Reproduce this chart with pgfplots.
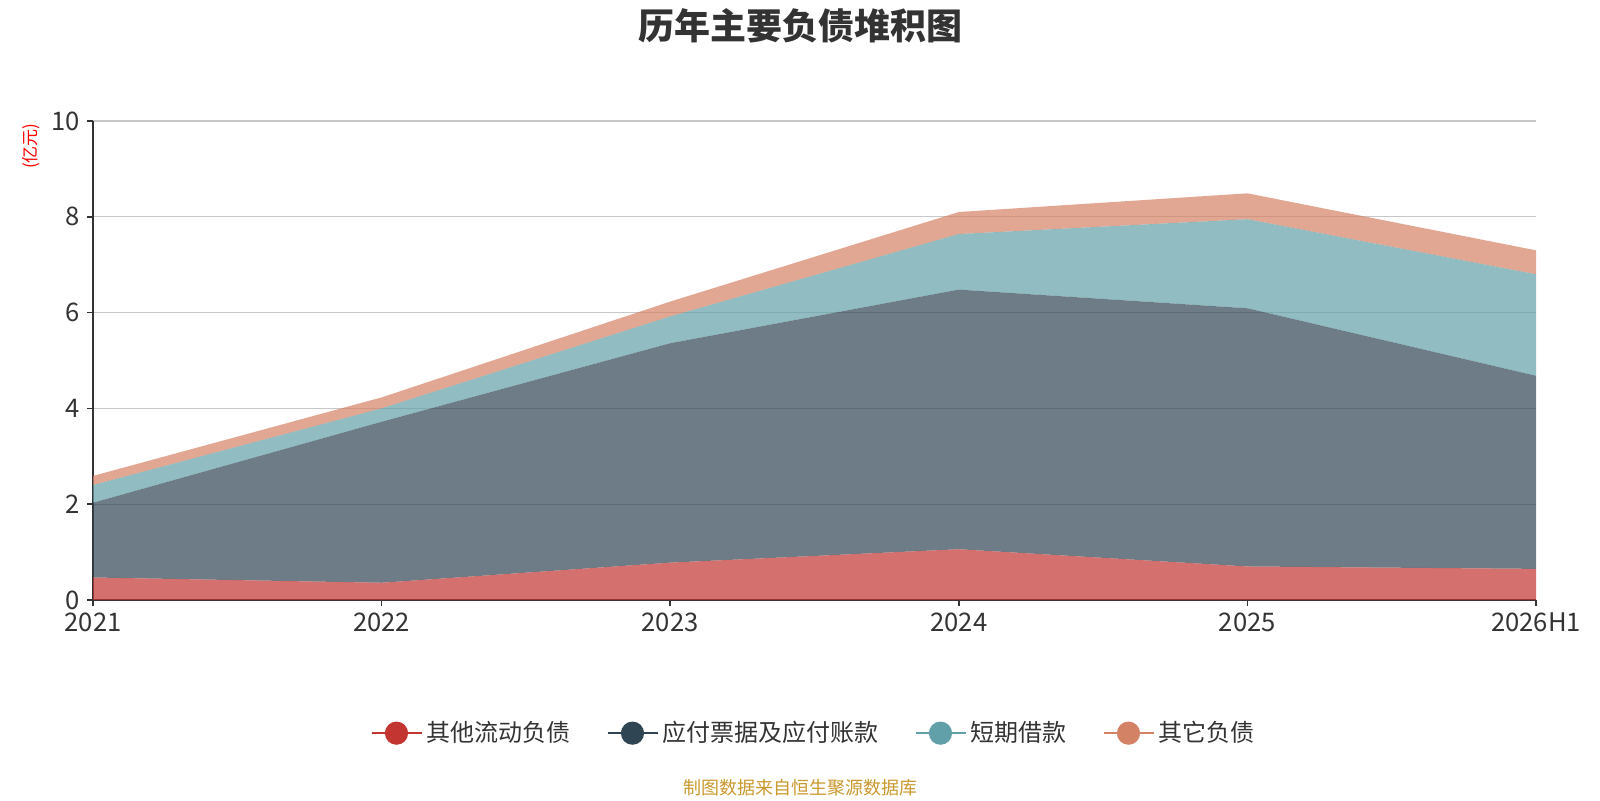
\documentclass[border=0pt]{standalone}
\usepackage{fontspec}
\setmainfont{Noto Sans CJK SC}
\usepackage{pgfplots}
\pgfplotsset{compat=1.18}
\definecolor{cA}{HTML}{C23531}
\definecolor{cB}{HTML}{2F4554}
\definecolor{cC}{HTML}{61A0A8}
\definecolor{cD}{HTML}{D48265}
\definecolor{txt}{HTML}{333333}
\definecolor{src}{HTML}{C9982C}
\begin{document}
\begin{tikzpicture}
\useasboundingbox (0,0) rectangle (800pt,400pt);
\node[font=\bfseries\fontsize{18}{20}\selectfont, text=txt] at (400pt,387pt) {历年主要负债堆积图};
\node[font=\fontsize{8.5}{10}\selectfont, text=red, rotate=90] at (15.3pt,327pt) {(亿元)};
\node[font=\fontsize{9}{11}\selectfont, text=src] at (400pt,6pt) {制图数据来自恒生聚源数据库};
\begin{axis}[
  at={(46.5pt,100pt)}, anchor=south west,
  scale only axis, width=721.5pt, height=239.5pt,
  xmin=0, xmax=5, ymin=0, ymax=10,
  xtick={0,1,2,3,4,5},
  xticklabels={2021,2022,2023,2024,2025,2026H1},
  ytick={0,2,4,6,8,10},
  axis x line*=bottom, axis y line*=left,
  axis line style={-, color=txt, line width=0.8pt},
  tick align=outside, major tick length=3pt,
  tick style={color=txt, line width=0.8pt},
  ymajorgrids, grid style={color=black!22, line width=0.6pt},
  ticklabel style={font=\fontsize{12.8}{14}\selectfont, text=txt},
  /pgf/number format/assume math mode=true,
  stack plots=y,
  legend style={at={(0.5,-0.278)}, anchor=center, draw=none, fill=none,
    font=\fontsize{12}{14}\selectfont, text=txt, legend columns=4,
    /tikz/every even column/.append style={column sep=16pt}},
  legend cell align=left,
]
\addplot[fill=cA, fill opacity=0.7, draw=none,
  legend image code/.code={\draw[cA,line width=1pt,opacity=1] (0pt,0pt) -- (25pt,0pt); \fill[cA,fill opacity=1] (12.5pt,0pt) circle (5.8pt);}]
  coordinates {(0,0.47) (1,0.36) (2,0.78) (3,1.06) (4,0.70) (5,0.65)} \closedcycle;
\addplot[fill=cB, fill opacity=0.7, draw=none,
  legend image code/.code={\draw[cB,line width=1pt,opacity=1] (0pt,0pt) -- (25pt,0pt); \fill[cB,fill opacity=1] (12.5pt,0pt) circle (5.8pt);}]
  coordinates {(0,1.56) (1,3.36) (2,4.58) (3,5.42) (4,5.39) (5,4.03)} \closedcycle;
\addplot[fill=cC, fill opacity=0.7, draw=none,
  legend image code/.code={\draw[cC,line width=1pt,opacity=1] (0pt,0pt) -- (25pt,0pt); \fill[cC,fill opacity=1] (12.5pt,0pt) circle (5.8pt);}]
  coordinates {(0,0.37) (1,0.28) (2,0.56) (3,1.16) (4,1.86) (5,2.12)} \closedcycle;
\addplot[fill=cD, fill opacity=0.7, draw=none,
  legend image code/.code={\draw[cD,line width=1pt,opacity=1] (0pt,0pt) -- (25pt,0pt); \fill[cD,fill opacity=1] (12.5pt,0pt) circle (5.8pt);}]
  coordinates {(0,0.19) (1,0.23) (2,0.31) (3,0.46) (4,0.54) (5,0.50)} \closedcycle;
\legend{其他流动负债,应付票据及应付账款,短期借款,其它负债}
\end{axis}
\end{tikzpicture}
\end{document}
